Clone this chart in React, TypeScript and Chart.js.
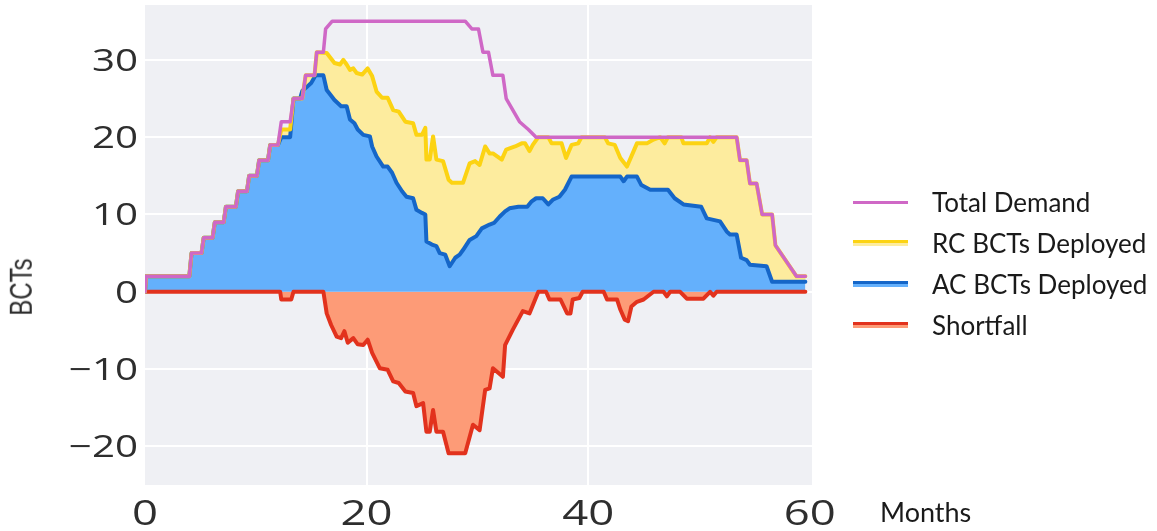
import React, { useEffect, useRef } from "react";
import { Chart, registerables } from "chart.js";

Chart.register(...registerables);

// Total Demand
const demandX = [0, 0.1, 4, 4.2, 5.1, 5.3, 6.1, 6.3, 7.1, 7.3, 8.2, 8.4, 9.2, 9.4, 10.1, 10.3, 11.1, 11.3, 12.0, 12.3, 13.1, 13.4, 14.2, 14.5, 15.3, 15.5, 16.1, 16.3, 16.9, 28.9, 29.5, 30.1, 30.5, 31.0, 31.4, 32.3, 32.6, 33.8, 34.6, 35.3, 53.4, 53.7, 54.3, 54.6, 55.2, 55.7, 56.6, 56.9, 58.8, 59.6];
const demandY = [0, 2, 2, 5, 5, 7, 7, 9, 9, 11, 11, 13, 13, 15, 15, 17, 17, 19, 19, 22, 22, 25, 25, 28, 28, 31, 31, 34, 35, 35, 34, 34, 31, 31, 28, 28, 25, 22, 21, 20, 20, 17, 17, 14, 14, 10, 10, 6, 2, 2];

// RC BCTs Deployed (top of stack = AC + RC)
const rcX = [0, 0.1, 4, 4.2, 5.1, 5.3, 6.1, 6.3, 7.1, 7.3, 8.2, 8.4, 9.2, 9.4, 10.1, 10.3, 11.1, 11.3, 12.0, 12.3, 13.1, 13.4, 14.2, 14.5, 15.3, 15.5, 16.4, 17.1, 17.6, 17.9, 18.2, 18.5, 18.8, 19.1, 19.6, 20.1, 20.5, 20.9, 21.4, 21.9, 22.4, 22.9, 23.5, 24.2, 24.5, 25.0, 25.3, 25.4, 25.7, 26.0, 26.3, 26.9, 27.4, 27.7, 28.7, 29.3, 29.8, 30.2, 30.7, 31.1, 31.4, 32.2, 32.6, 33.4, 34.0, 34.3, 34.7, 35.0, 35.5, 36.4, 36.7, 37.6, 38.0, 38.5, 39.1, 39.4, 41.5, 41.8, 42.4, 42.9, 43.5, 44.1, 44.4, 45.3, 45.9, 46.5, 46.9, 47.2, 48.4, 48.6, 50.7, 51.0, 51.3, 51.6, 53.4, 53.7, 54.3, 54.6, 55.2, 55.7, 56.6, 56.9, 58.8, 59.6];
const rcY = [0, 2, 2, 5, 5, 7, 7, 9, 9, 11, 11, 13, 13, 15, 15, 17, 17, 19, 19, 21, 21, 25, 25, 28, 28, 31, 30.9, 29.6, 29.4, 30, 29.4, 28.7, 28.9, 28.3, 28.1, 28.9, 27.9, 25.9, 25.1, 25.1, 23.5, 23.3, 22, 21.8, 20.3, 20.3, 21.2, 17.1, 17.1, 20.1, 17.1, 16.9, 14.5, 14.1, 14.1, 16.6, 16.9, 16.4, 18.8, 17.9, 17.9, 17.1, 18.4, 18.8, 19.2, 19.2, 18.2, 19.0, 20, 20, 19.2, 19.2, 17.3, 19.0, 19.2, 20, 20, 19.2, 19.0, 17.3, 16.2, 18.2, 19.2, 19.2, 19.7, 20, 19.2, 20, 20, 19.2, 19.2, 20, 19.4, 20, 20, 17, 17, 14, 14, 10, 10, 6, 2, 2];

// AC BCTs Deployed
const acX = [0, 0.1, 4, 4.2, 5.1, 5.3, 6.1, 6.3, 7.1, 7.3, 8.2, 8.4, 9.2, 9.4, 10.1, 10.3, 11.1, 11.3, 12.0, 12.3, 13.1, 13.4, 14.0, 14.2, 14.6, 15.0, 15.4, 16.1, 16.4, 17.1, 17.7, 18.2, 18.5, 18.9, 19.2, 19.7, 20.3, 20.5, 20.9, 21.5, 21.9, 22.3, 22.7, 23.2, 23.6, 24.2, 24.5, 25.0, 25.3, 25.4, 25.9, 26.3, 26.6, 27.1, 27.5, 28.0, 28.4, 28.7, 29.3, 29.9, 30.4, 31.1, 31.5, 32.0, 32.5, 32.9, 33.7, 34.5, 34.9, 35.3, 35.9, 36.4, 36.8, 37.4, 37.9, 38.5, 42.9, 43.2, 43.5, 44.4, 44.8, 45.6, 47.2, 47.8, 48.6, 50.2, 50.7, 51.9, 52.5, 52.8, 53.4, 53.8, 54.3, 54.6, 56.1, 56.6, 59.6];
const acY = [0, 2, 2, 5, 5, 7, 7, 9, 9, 11, 11, 13, 13, 15, 15, 17, 17, 19, 19, 20, 20, 25, 25, 26, 26.5, 27, 28, 28, 26.1, 24.8, 24, 24, 22.3, 21.8, 21, 20.3, 20.1, 18.8, 17.5, 16.2, 16.2, 15.4, 14.1, 13, 12.3, 12.1, 10.6, 10.2, 10, 6.5, 6.1, 5.9, 5.0, 4.8, 3.3, 4.4, 4.8, 5.4, 6.7, 7.2, 8.2, 8.7, 8.9, 9.7, 10.4, 10.8, 11.0, 11.0, 11.7, 12.1, 12.1, 11.3, 11.9, 12.3, 13.2, 14.9, 14.9, 14.3, 14.9, 14.9, 13.8, 13.2, 13.2, 12.1, 11.3, 11.0, 9.5, 9.1, 7.8, 7.4, 7.4, 4.4, 4.1, 3.5, 3.3, 1.3, 1.3];

// Shortfall
const sfX = [0, 12.2, 12.3, 13.2, 13.4, 16.1, 16.4, 16.8, 17.3, 17.7, 18.0, 18.3, 18.8, 19.2, 19.7, 20.1, 20.5, 21.2, 21.9, 22.4, 22.9, 23.5, 24.2, 24.5, 25.1, 25.4, 25.7, 26.0, 26.3, 26.9, 27.4, 28.9, 29.6, 30.2, 30.7, 31.1, 31.4, 32.3, 32.5, 33.2, 34.1, 34.7, 35.5, 36.2, 36.5, 37.5, 38.1, 38.4, 38.6, 39.2, 39.5, 41.4, 41.7, 42.6, 42.9, 43.3, 43.6, 43.9, 44.4, 45.0, 45.9, 46.8, 47.1, 47.4, 48.3, 48.9, 50.4, 51.0, 51.3, 51.6, 59.6];
const sfY = [0, 0, -1, -1, 0, 0, -2.8, -4.3, -5.8, -6, -5.1, -6.6, -6, -6.8, -6.9, -6.2, -7.9, -9.9, -10.1, -11.6, -11.8, -12.9, -13.1, -14.8, -14.4, -18.1, -18.1, -15.3, -18.1, -18.1, -20.9, -20.9, -17.2, -17.9, -12.7, -12.5, -9.9, -11.0, -6.9, -4.9, -2.5, -2.8, 0, 0, -1, -1, -2.8, -2.8, -1, -0.8, 0, 0, -1, -1, -2.3, -3.6, -3.8, -1.9, -1.3, -1, 0, 0, -0.6, 0, 0, -0.9, -0.9, 0, -0.5, 0, 0];

const xTickValues = [0, 20, 40, 60];
const yTickValues = [-20, -10, 0, 10, 20, 30];

const seriesLabels = ["Total Demand", "RC BCTs Deployed", "AC BCTs Deployed", "Shortfall"];
const lineColors = ["#cf68c6", "#fcd313", "#1566c8", "#e2321d"];
const fillColors = ["", "#fdec9e", "#64b0fc", "#fd9b77"];

const toPoints = (xs: number[], ys: number[]) => xs.map((x, i) => ({ x, y: ys[i] }));
const fmt = (v: number) => (v < 0 ? "\u2212" + Math.abs(v) : String(v));

const W = 1157;
const H = 531;
const STRETCH = 1.3;

export default function App() {
  const ref = useRef<HTMLCanvasElement>(null);

  useEffect(() => {
    if (!ref.current) return;
    const bgPlugin = {
      id: "plotBg",
      beforeDraw(chart: any) {
        const { ctx, chartArea: a } = chart;
        ctx.save();
        ctx.fillStyle = "#eff0f4";
        ctx.fillRect(a.left, a.top, a.right - a.left, a.bottom - a.top);
        ctx.restore();
      },
    };
    const tickPlugin = {
      id: "stretchedTicks",
      afterDraw(chart: any) {
        const { ctx, chartArea: a, scales } = chart;
        ctx.save();
        ctx.fillStyle = "#2e2e2e";
        ctx.textBaseline = "alphabetic";
        ctx.font = '31px "Open Sans"';
        ctx.textAlign = "right";
        yTickValues.forEach((v) => {
          const py = scales.y.getPixelForValue(v);
          ctx.save();
          ctx.translate(a.left - 7, py + 11);
          ctx.scale(STRETCH, 1);
          ctx.fillText(fmt(v), 0, 0);
          ctx.restore();
        });
        ctx.font = '35px "Open Sans"';
        ctx.textAlign = "center";
        xTickValues.forEach((v) => {
          const px = scales.x.getPixelForValue(v);
          ctx.save();
          ctx.translate(px, a.bottom + 40);
          ctx.scale(STRETCH, 1);
          ctx.fillText(fmt(v), 0, 0);
          ctx.restore();
        });
        ctx.restore();
      },
    };
    const chart = new Chart(ref.current, {
      type: "line",
      data: {
        datasets: [
          { label: seriesLabels[0], data: toPoints(demandX, demandY), borderColor: lineColors[0], borderWidth: 3.5, fill: false },
          { label: seriesLabels[1], data: toPoints(rcX, rcY), borderColor: lineColors[1], backgroundColor: fillColors[1], borderWidth: 4, fill: 2 },
          { label: seriesLabels[2], data: toPoints(acX, acY), borderColor: lineColors[2], backgroundColor: fillColors[2], borderWidth: 4, fill: "origin" },
          { label: seriesLabels[3], data: toPoints(sfX, sfY), borderColor: lineColors[3], backgroundColor: fillColors[3], borderWidth: 4, fill: "origin" },
        ],
      },
      options: {
        animation: false,
        responsive: false,
        elements: {
          point: { radius: 0, hoverRadius: 0 },
          line: { tension: 0, borderJoinStyle: "round", borderCapStyle: "round" },
        },
        layout: { padding: { top: 5, right: 345, left: 0, bottom: 0 } },
        plugins: {
          legend: { display: false },
          tooltip: { enabled: false },
          filler: { drawTime: "beforeDatasetsDraw" },
        },
        scales: {
          x: {
            type: "linear",
            min: 0,
            max: 60.2,
            afterFit: (s: any) => {
              s.height = 46;
              s.paddingLeft = 0;
              s.paddingRight = 0;
              s.paddingTop = 0;
              s.paddingBottom = 0;
            },
            afterBuildTicks: (s: any) => { s.ticks = xTickValues.map((v) => ({ value: v })); },
            border: { display: false },
            grid: {
              drawTicks: false,
              lineWidth: 2,
              color: (c: any) => (c.tick && (c.tick.value === 0 || c.tick.value === 60) ? "rgba(0,0,0,0)" : "#ffffff"),
            },
            ticks: { display: false },
          },
          y: {
            type: "linear",
            min: -25,
            max: 37.1,
            afterFit: (s: any) => {
              s.width = 145;
              s.paddingTop = 0;
              s.paddingBottom = 0;
              s.paddingLeft = 0;
              s.paddingRight = 0;
            },
            afterBuildTicks: (s: any) => { s.ticks = yTickValues.map((v) => ({ value: v })); },
            border: { display: false },
            grid: { drawTicks: false, lineWidth: 2, color: "#ffffff" },
            ticks: { display: false },
          },
        },
      },
      plugins: [bgPlugin, tickPlugin],
    } as any);
    return () => chart.destroy();
  }, []);

  const legendTop = [202, 243, 284, 325];

  return (
    <div style={{ position: "fixed", left: 0, top: 0, width: W, height: H, background: "#ffffff", overflow: "hidden" }}>
      <canvas ref={ref} width={W} height={H} style={{ display: "block", width: W, height: H }} />
      <div
        style={{
          position: "absolute",
          left: 21,
          top: 287,
          transform: "translate(-50%, -50%) rotate(-90deg) scaleY(1.3)",
          fontFamily: "Liberation Sans",
          fontSize: 24,
          lineHeight: 1,
          color: "#2e2e2e",
          whiteSpace: "nowrap",
        }}
      >
        BCTs
      </div>
      <div
        style={{
          position: "absolute",
          left: 880,
          top: 511,
          transform: "translateY(-50%)",
          fontFamily: "Lato",
          fontSize: 27,
          lineHeight: 1,
          color: "#1a1a1a",
          whiteSpace: "nowrap",
        }}
      >
        Months
      </div>
      {seriesLabels.map((lbl, i) => (
        <div key={lbl} style={{ position: "absolute", left: 853, top: legendTop[i], transform: "translateY(-50%)", display: "flex", alignItems: "center" }}>
          <div
            style={{
              width: 55,
              height: i === 0 ? 3 : 6,
              background: i === 0 ? lineColors[0] : `linear-gradient(${lineColors[i]} 0 45%, ${fillColors[i]} 45% 100%)`,
              marginRight: 24,
            }}
          />
          <span style={{ fontFamily: "Lato", fontSize: 26, color: "#1a1a1a", whiteSpace: "nowrap", lineHeight: 1 }}>{lbl}</span>
        </div>
      ))}
    </div>
  );
}
